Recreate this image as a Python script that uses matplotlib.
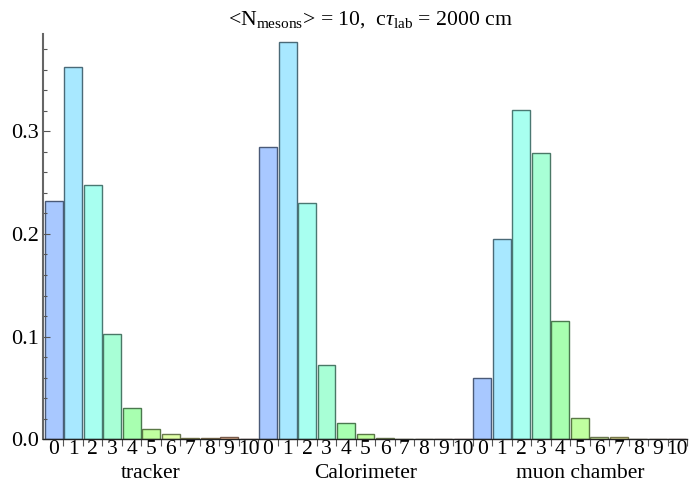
import numpy as np
import matplotlib
matplotlib.use('Agg')
import matplotlib.pyplot as plt
from matplotlib.ticker import MultipleLocator, FixedLocator, FuncFormatter
import matplotlib.transforms as mtransforms

plt.rcParams['font.family'] = 'Liberation Serif'
plt.rcParams['mathtext.fontset'] = 'custom'
plt.rcParams['mathtext.rm'] = 'Liberation Serif'
plt.rcParams['mathtext.it'] = 'Liberation Serif:italic'

# Probabilities of number of decays per detector region
groups = ['tracker', 'Calorimeter', 'muon chamber']
n_labels = [str(i) for i in range(11)]
tracker = [0.232, 0.362, 0.248, 0.103, 0.030, 0.0105, 0.0052, 0.0012, 0.0012, 0.002, 0.0004]
calorimeter = [0.285, 0.387, 0.230, 0.072, 0.0162, 0.0047, 0.001, 0.0002, 0.0, 0.0, 0.0]
muon = [0.060, 0.195, 0.321, 0.279, 0.1155, 0.0207, 0.0025, 0.002, 0.0003, 0.0, 0.0]

bar_colors = ['#a8c8ff', '#a8e8ff', '#a8fff0', '#a8ffd6', '#a8ffb0', '#c0ffa0',
              '#e0ffa8', '#f2f2a0', '#ffe4a0', '#ffc8a0', '#ffb0b0']
edge_colors = ['#4a5a78', '#4a6a78', '#4a7872', '#4a7866', '#4a784e', '#5a7846',
               '#6a784e', '#78784a', '#786a4a', '#785a4a', '#784e4e']

fig = plt.figure(figsize=(6.93, 4.87), dpi=100)
ax = fig.add_axes([43 / 693, (487 - 439.3) / 487, (687 - 43) / 693, (439.3 - 34) / 487])

series = [tracker, calorimeter, muon]
n = len(n_labels)
for g, vals in enumerate(series):
    x = np.arange(n) + g * n
    ax.bar(x, vals, width=0.92, color=bar_colors, edgecolor=edge_colors, linewidth=1.0)

ax.set_xlim(-0.55, 3 * n - 0.5)
ax.set_ylim(0, 0.3946)

# y axis
ax.yaxis.set_major_locator(MultipleLocator(0.1))
ax.yaxis.set_minor_locator(MultipleLocator(0.02))
ax.yaxis.set_major_formatter(FuncFormatter(lambda v, p: f'{v:.1f}'))
ax.tick_params(axis='y', which='major', direction='in', length=5, width=0.8,
               color='#555555', labelsize=16, pad=3)
ax.tick_params(axis='y', which='minor', direction='in', length=3, width=0.8, color='#555555')

# x axis: labels at bar centres, small ticks at bar boundaries
centers = np.arange(3 * n)
ax.xaxis.set_major_locator(FixedLocator(centers))
ax.set_xticklabels(n_labels * 3)
ax.xaxis.set_minor_locator(FixedLocator(np.arange(3 * n) + 0.5))
ax.tick_params(axis='x', which='major', length=0, labelsize=15.5, pad=0.5)
ax.tick_params(axis='x', which='minor', direction='out', length=5, width=0.8, color='#555555')

for s in ['top', 'right']:
    ax.spines[s].set_visible(False)
ax.spines['left'].set_color('#666666')
ax.spines['left'].set_linewidth(1.5)
ax.spines['bottom'].set_color('#222222')
ax.spines['bottom'].set_linewidth(1.0)

trans = mtransforms.blended_transform_factory(ax.transData, ax.transAxes)
for g, name in enumerate(groups):
    ax.text(g * n + (n - 1) / 2, -0.085, name, transform=trans,
            ha='center', va='center', fontsize=15.5)

fig.text(370 / 693, 1 - 20 / 487,
         r'<N$_{\rm mesons}$> = 10,  c$\tau_{\rm lab}$ = 2000 cm',
         ha='center', va='center', fontsize=15.7)

fig.savefig('out.png', dpi=100)
